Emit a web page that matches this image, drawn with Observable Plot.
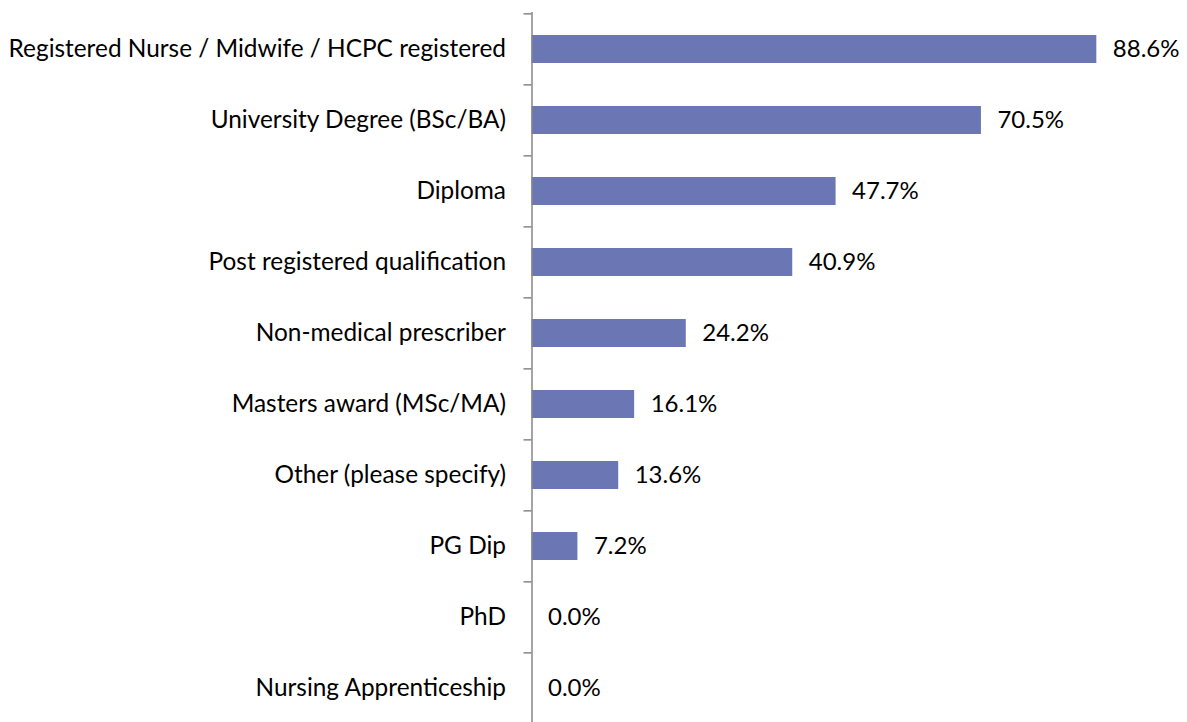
<!DOCTYPE html>
<html>
<head>
<meta charset="utf-8">
<script src="https://cdn.jsdelivr.net/npm/d3@7"></script>
<script src="https://cdn.jsdelivr.net/npm/@observablehq/plot@0.6"></script>
<style>
html, body { margin: 0; padding: 0; background: #fff; overflow: hidden; }
</style>
</head>
<body>
<div id="chart"></div>
<script>
const categories = [
  "Registered Nurse / Midwife / HCPC registered",
  "University Degree (BSc/BA)",
  "Diploma",
  "Post registered qualification",
  "Non-medical prescriber",
  "Masters award (MSc/MA)",
  "Other (please specify)",
  "PG Dip",
  "PhD",
  "Nursing Apprenticeship"
];
const values = [88.6, 70.5, 47.7, 40.9, 24.2, 16.1, 13.6, 7.2, 0.0, 0.0];

const data = categories.map((c, i) => ({category: c, value: values[i]}));

const W = 1187, H = 725, mTop = 12, mBottom = 0, mLeft = 531.5, mRight = 18;
const step = (H - mTop - mBottom) / categories.length;
const axisColor = "#868686";
const fontFamily = "Lato, 'Open Sans', sans-serif";

const chart = Plot.plot({
  width: W,
  height: H,
  marginTop: mTop,
  marginBottom: mBottom,
  marginLeft: mLeft,
  marginRight: mRight,
  style: {fontFamily, fontSize: "24px", color: "#000", background: "#fff"},
  x: {domain: [0, 100], axis: null},
  y: {domain: categories, paddingInner: 0.6, paddingOuter: 0.3, align: 0.5, axis: null},
  marks: [
    Plot.barX(data, {y: "category", x: "value", fill: "#6B77B5"}),
    Plot.ruleX([0], {stroke: axisColor, strokeWidth: 1.5}),
    Plot.axisY({tickSize: 8, tickFormat: () => "", label: null, stroke: axisColor, strokeWidth: 1.5, dy: -step / 2}),
    Plot.axisY({tickSize: 0, tickPadding: 26, label: null, fill: "#000", fontSize: 24.4}),
    Plot.text(data, {
      y: "category",
      x: "value",
      text: d => d.value.toFixed(1) + "%",
      textAnchor: "start",
      dx: 16,
      fill: "#000",
      fontSize: 24
    })
  ]
});
document.getElementById("chart").appendChild(chart);
</script>
</body>
</html>
